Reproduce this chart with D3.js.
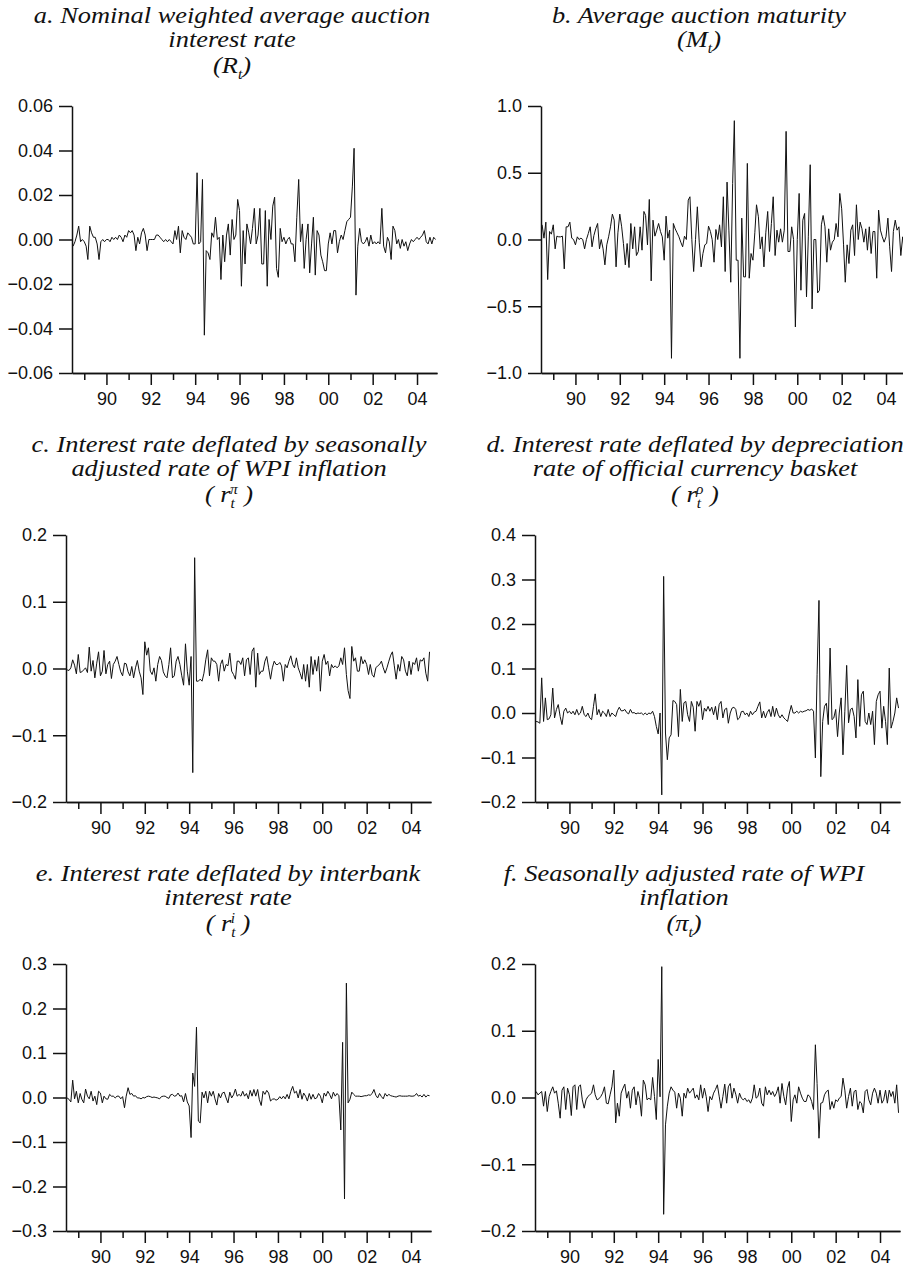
<!DOCTYPE html>
<html>
<head>
<meta charset="utf-8">
<script src="https://cdn.jsdelivr.net/npm/d3@7"></script>
<style>
body { margin:0; background:#fff; }
svg text { fill:#111; }
.tick text { font-family:"Liberation Sans", Arial, sans-serif; font-size:18px; }
.title { font-family:"Liberation Serif", "Times New Roman", serif; font-style:italic; font-size:24px; }
.axis path, .axis line { stroke:#111; stroke-width:1.5; }
.series { fill:none; stroke:#111; stroke-width:1; }
</style>
</head>
<body>
<svg id="chart" width="903" height="1269"></svg>
<script>
// monthly observations, Jul 1988 .. Nov 2004
const months = d3.timeMonth.range(new Date(1988,6,1), new Date(2004,11,1));
const majorYears = [1990,1992,1994,1996,1998,2000,2002,2004];
const minorYears = [1989,1991,1993,1995,1997,1999,2001,2003];

// a. nominal weighted average auction interest rate R_t
const rateR = [
 -0.003,-0.001,0.002,0.006,-0.001,0.000,-0.001,-0.003,-0.009,0.006,
 0.003,0.001,0.001,-0.002,-0.009,-0.001,0.000,-0.001,0.000,0.000,
 -0.001,0.001,0.000,0.001,0.000,0.002,0.001,-0.001,0.002,0.001,
 0.004,0.003,0.004,0.002,-0.005,0.001,-0.002,0.003,0.005,0.002,
 -0.005,0.000,0.000,0.000,0.000,0.002,0.002,0.001,0.000,-0.001,
 0.000,-0.001,0.000,-0.001,-0.002,0.004,0.000,0.006,-0.006,0.004,
 0.001,0.000,0.003,0.002,0.001,-0.002,-0.002,0.030,-0.002,-0.001,
 0.027,-0.043,-0.005,-0.006,-0.009,0.003,0.001,0.010,0.000,0.001,
 -0.018,0.002,-0.010,0.002,0.007,-0.007,0.009,0.000,0.002,0.018,
 0.013,-0.021,0.004,-0.011,0.007,0.003,-0.002,0.005,0.014,-0.002,
 0.002,0.014,-0.011,-0.011,0.013,-0.021,0.009,0.000,0.015,0.019,
 -0.013,-0.017,0.005,-0.001,0.001,-0.002,0.000,0.001,-0.002,-0.002,
 -0.010,0.010,0.027,-0.001,0.007,-0.013,0.000,0.007,-0.015,-0.002,
 0.010,-0.016,0.004,0.002,-0.007,-0.010,-0.014,-0.014,-0.002,0.003,
 -0.002,0.004,0.004,-0.006,-0.001,0.002,0.000,0.004,0.008,0.009,
 0.010,0.024,0.041,-0.025,-0.003,0.005,-0.001,-0.002,-0.001,0.001,
 -0.003,0.002,-0.002,-0.001,-0.002,-0.001,-0.002,0.014,-0.003,-0.006,
 0.001,-0.001,-0.009,0.006,0.004,-0.002,0.000,-0.004,0.000,-0.003,
 -0.001,-0.005,-0.002,0.000,-0.001,0.000,0.001,0.000,0.001,0.002,
 0.004,-0.001,-0.002,0.001,-0.002,0.001,0.000
];

// b. average auction maturity M_t
const maturityM = [
 0.11,0.01,0.13,-0.30,0.06,0.04,0.11,-0.07,0.025,0.02,
 0.02,0.025,-0.22,0.095,0.095,0.13,0.01,0.00,-0.04,0.02,
 0.00,0.01,0.00,-0.07,0.00,0.045,0.095,-0.055,0.03,0.08,
 0.12,-0.07,0.00,-0.07,-0.19,-0.04,0.02,0.095,0.19,0.145,
 -0.205,0.05,0.19,0.095,-0.03,-0.19,-0.03,-0.21,0.12,-0.07,
 0.095,-0.12,-0.09,0.095,-0.08,0.21,0.18,-0.04,0.30,-0.31,
 0.145,0.025,0.07,0.12,0.06,0.02,-0.155,0.175,0.01,0.07,
 -0.89,0.12,0.08,0.05,0.02,-0.02,-0.055,0.025,0.00,0.295,
 0.32,0.00,-0.24,0.00,0.245,-0.02,-0.205,-0.105,-0.04,-0.03,
 0.10,0.06,0.00,-0.17,0.075,0.00,0.11,-0.055,0.32,-0.24,
 0.43,0.07,-0.32,0.42,0.89,-0.155,-0.155,-0.89,0.16,-0.28,
 -0.28,0.57,-0.29,-0.105,-0.155,0.05,0.26,0.17,-0.07,0.02,
 -0.205,0.05,0.21,-0.09,0.12,0.32,-0.12,0.07,-0.02,0.08,
 -0.02,0.07,0.81,-0.09,-0.09,0.095,0.00,-0.655,0.00,0.345,
 -0.38,0.145,0.195,-0.43,0.02,0.56,-0.52,0.00,0.00,-0.40,
 -0.38,0.11,0.18,0.095,-0.17,0.08,-0.08,-0.02,0.00,0.12,
 0.02,0.345,0.23,-0.04,-0.32,-0.04,-0.18,0.07,0.11,-0.12,
 0.26,0.00,0.13,0.08,-0.02,0.08,-0.08,0.095,-0.105,0.06,
 0.06,-0.29,0.22,0.07,0.02,-0.02,0.02,0.16,-0.055,-0.24,
 0.06,0.145,0.07,0.095,-0.12,0.02,-0.10
];

// c. rate deflated by WPI inflation r_t^pi
const realPi = [
 -0.002,-0.003,0.001,0.013,0.005,-0.008,0.021,-0.006,-0.005,-0.002,
 0.001,-0.006,0.032,-0.004,0.012,-0.014,0.008,0.025,-0.011,-0.004,
 0.027,-0.008,0.006,0.011,-0.015,0.006,0.011,0.018,0.006,-0.005,
 -0.011,0.008,0.007,-0.005,-0.011,0.003,-0.014,0.001,0.012,-0.004,
 -0.014,-0.039,0.040,0.020,0.031,-0.004,-0.009,0.001,-0.019,0.006,
 0.018,0.012,-0.005,-0.011,-0.014,0.006,0.031,-0.014,-0.011,0.011,
 0.018,0.006,-0.011,-0.025,0.037,-0.004,-0.025,0.018,-0.156,0.166,
 -0.019,-0.019,-0.016,-0.019,-0.007,0.013,0.028,-0.011,0.016,0.011,
 0.011,0.006,-0.019,0.006,0.013,-0.004,0.006,0.004,0.023,-0.004,
 -0.009,-0.016,0.011,0.011,0.006,0.016,-0.011,0.013,0.016,-0.009,
 0.026,0.031,-0.028,0.023,-0.009,-0.004,-0.004,0.011,0.018,0.001,
 -0.016,0.001,0.011,0.006,0.006,0.009,0.004,-0.019,0.006,0.001,
 0.011,0.019,0.006,0.001,0.016,0.001,-0.007,-0.016,0.006,-0.019,
 0.006,-0.028,0.018,-0.009,0.013,-0.004,0.018,-0.034,0.011,0.021,
 0.006,0.011,-0.011,0.006,0.001,0.004,0.001,0.004,0.016,0.006,
 0.031,-0.009,-0.033,-0.045,0.033,0.011,0.016,-0.004,-0.004,0.018,
 0.007,0.013,0.006,-0.009,0.006,-0.009,-0.013,0.001,0.004,0.006,
 0.011,0.001,-0.007,0.001,0.011,0.020,0.025,0.004,-0.016,0.006,
 -0.004,0.018,0.013,-0.004,-0.011,0.011,-0.009,0.009,0.006,0.016,
 -0.004,0.013,0.011,0.016,-0.007,-0.019,0.025
];

// d. rate deflated by currency basket depreciation r_t^rho
const realRho = [
 -0.019,-0.020,-0.023,0.079,-0.019,0.034,-0.015,-0.013,-0.004,0.056,
 -0.011,0.008,0.019,-0.008,-0.026,0.004,0.011,0.000,0.004,-0.002,
 0.004,-0.004,0.008,-0.004,0.000,0.015,-0.004,-0.008,0.000,-0.011,
 -0.015,0.015,0.043,-0.004,0.008,-0.008,0.004,0.000,-0.008,0.008,
 -0.008,0.000,-0.004,-0.008,0.005,0.013,0.005,0.005,0.008,0.001,
 -0.002,0.008,0.000,0.001,-0.002,0.000,-0.001,0.000,-0.004,0.000,
 -0.004,0.000,-0.002,0.004,-0.008,-0.030,-0.047,0.000,-0.184,0.307,
 -0.045,-0.105,-0.056,-0.049,0.028,0.026,0.019,-0.053,0.053,-0.019,
 0.023,0.026,-0.004,-0.019,0.026,0.013,-0.041,0.026,0.015,0.028,
 -0.015,0.011,0.004,0.015,0.004,0.013,-0.004,0.015,-0.015,0.019,
 0.026,-0.011,0.008,0.011,-0.023,0.000,0.011,0.013,0.008,-0.015,
 -0.011,0.003,0.004,-0.004,0.000,-0.008,0.004,-0.004,0.002,0.004,
 0.015,0.025,-0.011,0.004,-0.011,0.001,0.008,-0.008,0.015,-0.008,
 0.011,-0.004,-0.011,-0.004,-0.011,-0.015,-0.019,0.000,0.017,0.000,
 0.000,0.004,0.000,0.004,0.002,0.004,0.005,0.008,0.006,0.009,
 0.004,-0.101,0.086,0.253,-0.143,-0.019,0.015,0.022,-0.026,0.146,
 -0.015,-0.011,0.008,-0.053,0.000,0.034,-0.094,0.004,0.107,-0.022,
 0.008,0.011,-0.008,-0.056,0.075,-0.030,0.041,0.049,-0.019,-0.026,
 0.000,-0.026,0.004,-0.071,0.026,0.041,0.049,-0.034,0.015,-0.019,
 -0.071,0.101,-0.034,-0.019,0.000,0.034,0.011
];

// e. rate deflated by interbank rate r_t^i
const realI = [
 -0.001,-0.004,-0.010,0.039,-0.003,0.014,-0.012,0.009,-0.004,-0.012,
 0.019,0.003,-0.003,0.014,-0.008,0.003,-0.016,0.014,0.010,-0.012,
 0.003,-0.003,-0.004,0.007,0.003,0.003,-0.001,0.003,0.003,-0.003,
 0.002,-0.023,0.003,0.022,0.007,0.009,0.003,0.004,-0.001,-0.001,
 -0.003,0.000,-0.001,0.002,0.003,0.002,0.000,0.001,0.000,-0.001,
 -0.003,0.002,0.003,0.003,0.000,-0.002,0.006,0.007,0.003,0.004,
 0.010,0.003,0.004,-0.010,0.009,-0.010,-0.019,-0.090,0.055,0.025,
 0.158,-0.053,-0.057,0.012,-0.001,0.014,-0.012,0.014,0.003,0.014,
 -0.003,-0.017,0.009,-0.001,0.010,0.012,-0.001,-0.012,0.012,-0.001,
 0.006,0.019,0.003,0.007,0.003,0.014,0.003,0.009,-0.003,0.016,
 0.003,0.018,0.003,0.018,-0.005,-0.018,0.014,0.007,0.016,0.010,
 -0.008,-0.004,-0.003,-0.006,-0.004,0.002,-0.003,0.003,-0.003,0.007,
 -0.003,0.014,0.025,0.010,0.014,-0.001,0.018,-0.004,0.010,0.003,
 -0.008,0.009,-0.004,0.007,-0.003,-0.001,0.009,0.003,-0.012,0.010,
 0.003,0.014,0.007,-0.003,0.012,0.003,0.009,0.004,-0.073,0.124,
 -0.228,0.257,-0.012,-0.004,0.012,0.007,0.003,0.003,0.003,0.002,
 0.003,0.004,0.004,0.006,0.005,0.009,0.018,0.005,-0.001,0.009,
 0.002,-0.003,0.009,0.003,0.007,0.004,0.003,0.002,0.001,0.003,
 0.004,0.003,0.003,0.003,0.003,0.004,0.003,0.003,0.004,0.009,
 0.003,0.005,0.001,0.007,0.001,0.005,0.004
];

// f. seasonally adjusted WPI inflation pi_t
const inflPi = [
 0.009,0.004,0.0065,0.009,-0.013,0.009,-0.021,0.0015,0.009,0.016,
 0.0065,0.010,-0.0085,-0.031,0.011,0.016,-0.018,0.014,0.004,-0.027,
 0.016,0.019,-0.018,0.016,0.019,-0.0035,-0.016,-0.0035,0.0015,0.004,
 0.0065,0.019,0.004,-0.0035,-0.002,0.0015,0.0065,0.016,-0.0085,-0.0095,
 0.004,0.016,0.041,-0.038,-0.0085,-0.028,0.0065,0.014,0.020,-0.001,
 0.009,-0.016,0.011,0.016,-0.011,0.009,-0.001,-0.028,0.026,0.019,
 -0.0035,-0.001,-0.0035,0.030,0.0015,-0.033,0.057,0.001,0.196,-0.175,
 -0.041,-0.013,0.0065,0.016,0.011,0.008,-0.016,0.0065,-0.001,-0.028,
 0.0065,-0.001,0.014,0.0065,0.010,0.014,-0.001,0.004,-0.0035,0.019,
 -0.001,0.014,0.0015,-0.021,0.0015,-0.0035,0.0065,0.012,0.019,0.002,
 -0.016,0.0015,0.020,-0.0085,0.016,0.021,-0.001,0.014,0.005,-0.0085,
 0.0065,-0.001,-0.0035,-0.001,-0.006,-0.0035,-0.0085,-0.001,0.019,-0.001,
 0.0015,0.014,-0.0085,-0.013,0.016,0.004,0.011,0.004,0.009,0.0015,
 0.0065,0.016,-0.0085,0.021,0.0015,-0.011,0.014,0.024,-0.036,-0.0035,
 0.004,-0.0085,0.016,0.0065,-0.001,-0.006,-0.006,0.004,0.0015,-0.006,
 -0.018,0.079,0.021,-0.061,-0.0085,-0.0075,0.004,0.009,0.011,-0.018,
 -0.006,-0.016,-0.0035,-0.006,-0.001,0.0015,0.029,0.011,-0.016,0.0015,
 0.014,-0.013,0.009,0.011,-0.018,-0.006,-0.0085,-0.023,0.009,0.012,
 -0.0035,-0.011,0.0065,0.014,0.0065,-0.0085,0.011,-0.0085,-0.0035,0.011,
 -0.0085,0.011,0.0015,0.009,-0.0085,0.019,-0.023
];

const ticksR = [-0.06,-0.04,-0.02,0,0.02,0.04,0.06];
const ticksM = [-1,-0.5,0,0.5,1];
const ticksPi = [-0.2,-0.1,0,0.1,0.2];
const ticksRho = [-0.2,-0.1,0,0.1,0.2,0.3,0.4];
const ticksI = [-0.3,-0.2,-0.1,0,0.1,0.2,0.3];
const ticksInfl = [-0.2,-0.1,0,0.1,0.2];

// title lines; each line is a list of text pieces
const titleR = [[{t:"a. Nominal weighted average auction"}],[{t:"interest rate"}],[{t:"(R"},{t:"t",sub:1},{t:")"}]];
const titleM = [[{t:"b. Average auction maturity"}],[{t:"(M"},{t:"t",sub:1},{t:")"}]];
const titlePi = [[{t:"c. Interest rate deflated by seasonally"}],[{t:"adjusted rate of WPI inflation"}],[{t:"( r"},{t:"t",sub:1},{t:"π",sup:1,back:4.5},{t:" )"}]];
const titleRho = [[{t:"d. Interest rate deflated by depreciation"}],[{t:"rate of official currency basket"}],[{t:"( r"},{t:"t",sub:1},{t:"ρ",sup:1,back:4.5},{t:" )"}]];
const titleI = [[{t:"e. Interest rate deflated by interbank"}],[{t:"interest rate"}],[{t:"( r"},{t:"t",sub:1},{t:"i",sup:1,back:4.5},{t:" )"}]];
const titleInfl = [[{t:"f. Seasonally adjusted rate of WPI"}],[{t:"inflation"}],[{t:"(π"},{t:"t",sub:1},{t:")"}]];

const panels = [
	{values:rateR, ticks:ticksR, fmt:".2f", title:titleR, left:72, top:106, cx:232},
	{values:maturityM, ticks:ticksM, fmt:".1f", title:titleM, left:541, top:106, cx:699},
	{values:realPi, ticks:ticksPi, fmt:".1f", title:titlePi, left:66, top:535, cx:229},
	{values:realRho, ticks:ticksRho, fmt:".1f", title:titleRho, left:535, top:535, cx:695},
	{values:realI, ticks:ticksI, fmt:".1f", title:titleI, left:66, top:964, cx:228},
	{values:inflPi, ticks:ticksInfl, fmt:".1f", title:titleInfl, left:535, top:964, cx:684}
];

const plotW = 365, plotH = 267;
let chart = d3.select("#chart");

const drawTitle = (g, lines, cx, top) => {
	lines.forEach((segs, k) => {
		let base = top - 83 + k * 24 + (k == 2 ? 1.5 : 0);
		// the reference face runs a little wider than Liberation Serif
		let text = g.append("text")
			.attr("class","title")
			.attr("transform",`translate(${cx},${base}) scale(1.1,1)`)
			.attr("text-anchor","middle");
		let shift = 0;
		segs.forEach((s) => {
			let target = s.sub ? 6 : s.sup ? -8 : 0;
			let ts = text.append("tspan").attr("dy", target - shift).text(s.t);
			if (s.sub || s.sup) ts.style("font-size","14px");
			if (s.back) ts.attr("dx", -s.back);
			shift = target;
		});
	});
}

const drawPanel = (p) => {
	let bottom = p.top + plotH;
	let x = d3.scaleTime()
		.domain([new Date(1988,5,13), new Date(2004,10,25)])
		.range([p.left, p.left + plotW]);
	let y = d3.scaleLinear()
		.domain(d3.extent(p.ticks))
		.range([bottom, p.top]);

	chart.append("g")
		.attr("class","axis")
		.attr("transform",`translate(0,${bottom})`)
		.call(d3.axisBottom(x)
			.tickValues(minorYears.map((yr) => new Date(yr,0,1)))
			.tickSize(7).tickSizeOuter(0).tickFormat(""));

	chart.append("g")
		.attr("class","axis")
		.attr("transform",`translate(0,${bottom})`)
		.call(d3.axisBottom(x)
			.tickValues(majorYears.map((yr) => new Date(yr,0,1)))
			.tickFormat(d3.timeFormat("%y"))
			.tickSize(12).tickSizeOuter(0).tickPadding(7));

	chart.append("g")
		.attr("class","axis")
		.attr("transform",`translate(${p.left},0)`)
		.call(d3.axisLeft(y)
			.tickValues(p.ticks)
			.tickFormat(d3.format(p.fmt))
			.tickSize(13).tickSizeOuter(0).tickPadding(6));

	let line = d3.line()
		.x((d, i) => x(months[i]))
		.y((d) => y(d));
	chart.append("path")
		.datum(p.values)
		.attr("class","series")
		.attr("d", line);

	drawTitle(chart, p.title, p.cx, p.top);
}

panels.forEach(drawPanel);
</script>
</body>
</html>
